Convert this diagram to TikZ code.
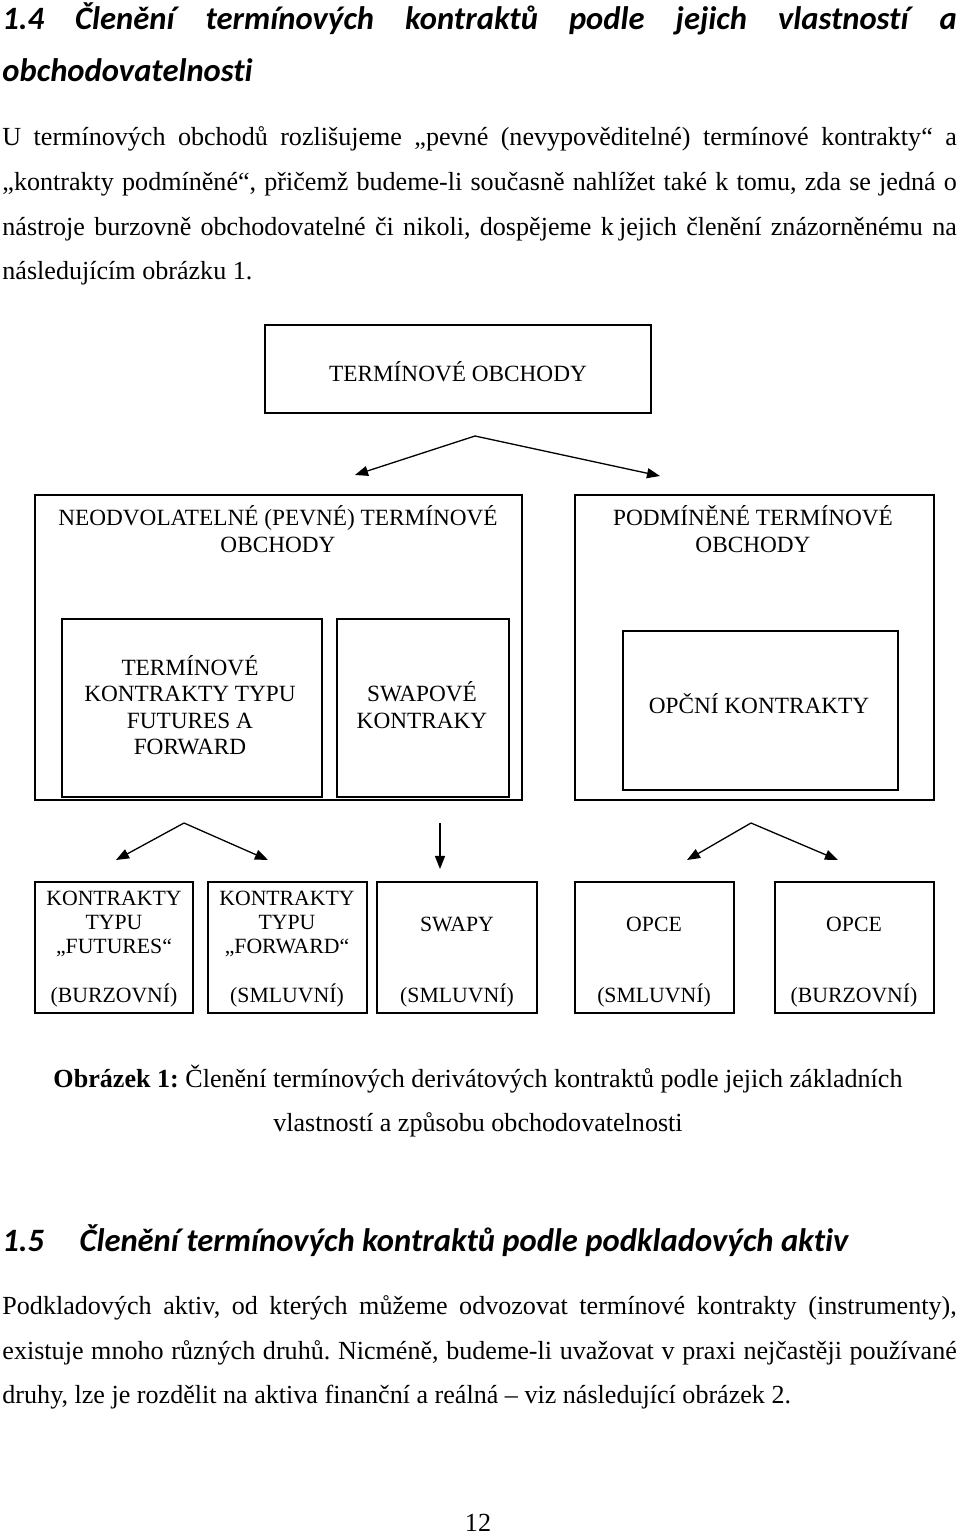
\documentclass[tikz,border=0pt]{standalone}
\usepackage{fontspec}
\setmainfont{Liberation Serif}
\newfontfamily\headfont[Ligatures=NoCommon]{Carlito}
\usetikzlibrary{arrows.meta}
\frenchspacing

\def\px{0.46pt}
\def\tw{439pt}

\tikzset{
    box/.style={draw,line width=0.9pt,inner sep=0pt,outer sep=0pt,anchor=north west},
    lbl/.style={font=\fontsize{10.7}{12.2}\selectfont,align=center,inner sep=0pt},
    lblsm/.style={font=\fontsize{10}{11.1}\selectfont,align=center,inner sep=0pt},
    arr/.style={-{Triangle[length=6pt,width=4.6pt]},line width=0.6pt},
    txtline/.style={anchor=base west,inner sep=0pt,font=\fontsize{12}{14}\selectfont},
    headline/.style={anchor=base west,inner sep=0pt,font=\headfont\bfseries\itshape\fontsize{15}{17}\selectfont}
}

\begin{document}
\begin{tikzpicture}[x=\px,y=-\px]
            \useasboundingbox [fill=white] (0,0) rectangle (960,1536);

            % heading and text above the figure
            \node [headline] (h1a) at (2,30) {\makebox[\tw][s]{1.4 Členění termínových kontraktů podle jejich vlastností a}};
            \node [headline] (h1b) at (2,82) {obchodovatelnosti};
            \node [txtline] (p1) at (2,146) {\makebox[\tw][s]{U termínových obchodů rozlišujeme „pevné (nevypověditelné) termínové kontrakty“ a}};
            \node [txtline] (p2) at (2,190) {\makebox[\tw][s]{„kontrakty podmíněné“, přičemž budeme-li současně nahlížet také k tomu, zda se jedná o}};
            \node [txtline] (p3) at (2,235) {\makebox[\tw][s]{nástroje burzovně obchodovatelné či nikoli, dospějeme k\kern0.2em jejich členění znázorněnému na}};
            \node [txtline] (p4) at (2,279) {následujícím obrázku 1.};

            % boxes
            \node [box,minimum width=386*\px,minimum height=88*\px]  (top) at (265,325) {};
            \node [box,minimum width=487*\px,minimum height=305*\px] (neo) at (35,495) {};
            \node [box,minimum width=359*\px,minimum height=305*\px] (pod) at (575,495) {};
            \node [box,minimum width=260*\px,minimum height=178*\px] (fut) at (62,619) {};
            \node [box,minimum width=172*\px,minimum height=178*\px] (swp) at (337,619) {};
            \node [box,minimum width=275*\px,minimum height=159*\px] (opc) at (623,631) {};
            \foreach \x/\w/\n in {35/158/b1,208/159/b2,377/160/b3,575/159/b4,775/159/b5}
                {\node [box,minimum width=\w*\px,minimum height=131*\px] (\n) at (\x,882) {};}

            % labels
            \node [lbl] (ttop) at (458,372) {TERMÍNOVÉ OBCHODY};
            \node [lbl] (tneo) at (278,529) {NEODVOLATELNÉ (PEVNÉ) TERMÍNOVÉ\\OBCHODY};
            \node [lbl] (tpod) at (753,529) {PODMÍNĚNÉ TERMÍNOVÉ\\OBCHODY};
            \node [lbl] (tfut) at (190,705) {TERMÍNOVÉ\\KONTRAKTY TYPU\\FUTURES A\\FORWARD};
            \node [lbl] (tswp) at (422,705) {SWAPOVÉ\\KONTRAKY};
            \node [lbl] (topc) at (759,704) {OPČNÍ KONTRAKTY};

            \node [lblsm] (tb1) at (114,924) {KONTRAKTY\\TYPU\\„FUTURES“};
            \node [lblsm] (tb2) at (287,924) {KONTRAKTY\\TYPU\\„FORWARD“};
            \node [lblsm] (tb3) at (457,924) {SWAPY};
            \node [lblsm] (tb4) at (654,924) {OPCE};
            \node [lblsm] (tb5) at (854,924) {OPCE};
            \node [lblsm] (sb1) at (114,995) {(BURZOVNÍ)};
            \node [lblsm] (sb2) at (287,995) {(SMLUVNÍ)};
            \node [lblsm] (sb3) at (457,995) {(SMLUVNÍ)};
            \node [lblsm] (sb4) at (654,995) {(SMLUVNÍ)};
            \node [lblsm] (sb5) at (854,995) {(BURZOVNÍ)};

            % arrows
            \coordinate (ap0) at (475,436);
            \coordinate (al0) at (355,475);
            \coordinate (ar0) at (660,476);
            \coordinate (ap1) at (184,823);
            \coordinate (al1) at (116,860);
            \coordinate (ar1) at (268,860);
            \coordinate (ap2) at (440,823);
            \coordinate (ad2) at (440,869);
            \coordinate (ap3) at (751,823);
            \coordinate (al3) at (687,860);
            \coordinate (ar3) at (838,860);

            \draw [arr] (ap0) -- (al0);
            \draw [arr] (ap0) -- (ar0);
            \draw [arr] (ap1) -- (al1);
            \draw [arr] (ap1) -- (ar1);
            \draw [arr] (ap2) -- (ad2);
            \draw [arr] (ap3) -- (al3);
            \draw [arr] (ap3) -- (ar3);

            % caption and following section
            \node [txtline,anchor=base] (cap1) at (478,1087) {\textbf{Obrázek 1:} Členění termínových derivátových kontraktů podle jejich základních};
            \node [txtline,anchor=base] (cap2) at (478,1131) {vlastností a způsobu obchodovatelnosti};
            \node [headline] (h2) at (2,1251) {\makebox[35.5pt][l]{1.5}Členění termínových kontraktů podle podkladových aktiv};
            \node [txtline] (q1) at (2,1314) {\makebox[\tw][s]{Podkladových aktiv, od kterých můžeme odvozovat termínové kontrakty (instrumenty),}};
            \node [txtline] (q2) at (2,1359) {\makebox[\tw][s]{existuje mnoho různých druhů. Nicméně, budeme-li uvažovat v praxi nejčastěji používané}};
            \node [txtline] (q3) at (2,1403) {druhy, lze je rozdělit na aktiva finanční a reálná – viz následující obrázek 2.};
            \node [txtline,anchor=base] (pg) at (478,1531) {12};
\end{tikzpicture}
\end{document}
